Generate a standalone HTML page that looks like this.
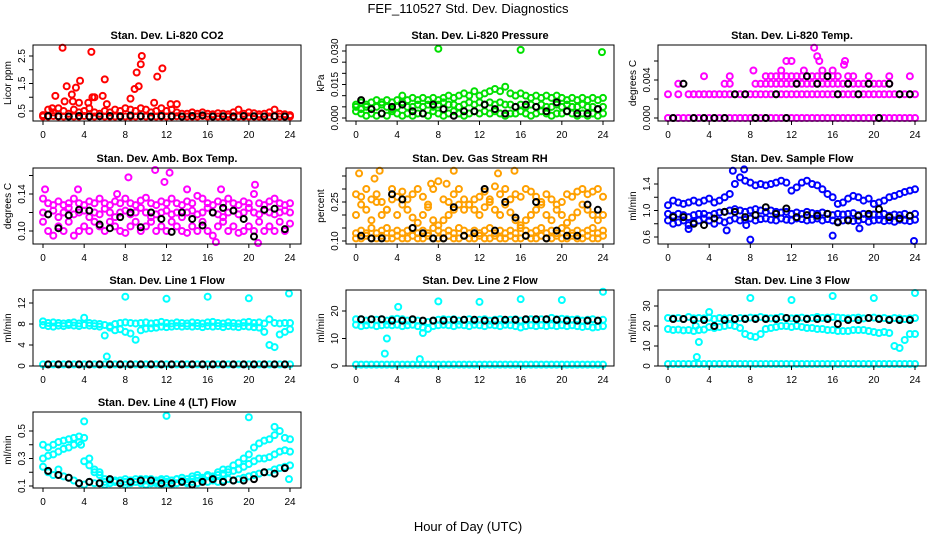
<!DOCTYPE html>
<html><head><meta charset="utf-8"><style>
body{margin:0;background:#fff}
svg{display:block;font-family:"Liberation Sans",sans-serif}
</style></head><body>
<svg id="chart" width="936" height="540" viewBox="0 0 936 540" xmlns="http://www.w3.org/2000/svg">
<rect width="936" height="540" fill="#fff"/>
<text x="468" y="13" text-anchor="middle" font-size="13">FEF_110527  Std. Dev. Diagnostics</text>
<text x="468" y="531" text-anchor="middle" font-size="13">Hour of Day (UTC)</text>
</svg>
<script>
// ---- data (hours every 0.5 h for coloured series, hourly at :30 for black) ----
const xTicks = [0,4,8,12,16,20,24];

const co2Base = [0.3,0.3,0.32,0.3,0.3,0.31,0.3,0.3,0.32,0.3,0.3,0.31,0.3,0.3,0.3,0.32,0.3,0.3,0.3,0.31,0.3,0.3,0.3,0.3,0.3,0.3,0.31,0.3,0.3,0.3,0.3,0.32,0.3,0.3,0.3,0.3,0.3,0.31,0.3,0.3,0.3,0.3,0.3,0.3,0.3,0.31,0.3,0.3,0.3];
const co2Upper = [0.35,0.55,0.45,0.6,0.5,0.4,0.55,0.45,0.5,0.6,0.45,0.4,0.5,0.45,0.55,0.5,0.6,0.55,0.5,0.6,0.55,0.45,0.5,0.6,0.5,0.55,0.45,0.4,0.4,0.45,0.4,0.45,0.4,0.38,0.42,0.4,0.38,0.45,0.55,0.4,0.45,0.42,0.38,0.4,0.45,0.55,0.4,0.38,0.35];
const co2OutH = [1.9,4.7,9.6,9.5,11.6,9.1,11.1,6.0,3.6,3.2,2.3,2.8,1.2,5.8,5.0,4.8,9.3,8.9,8.5,2.1,2.9,3.5,4.4,6.2,12.4,13,10.8,0.9];
const co2OutV = [2.8,2.65,2.5,2.2,2.05,1.9,1.75,1.65,1.6,1.35,1.4,1.1,1.05,1.05,1.0,1.0,1.4,1.3,0.95,0.85,0.85,0.8,0.8,0.75,0.75,0.75,0.8,0.6];
const co2Black = [0.32,0.31,0.3,0.32,0.3,0.31,0.32,0.3,0.33,0.31,0.3,0.32,0.31,0.3,0.32,0.34,0.3,0.31,0.3,0.32,0.31,0.3,0.31,0.3];

const presLo = [0.003,0.002,0.001,0.002,0.001,0.002,0.001,0.003,0.002,0.001,0.002,0.001,0.002,0.002,0.001,0.003,0.002,0.001,0.002,0.003,0.002,0.001,0.002,0.003,0.002,0.003,0.002,0.003,0.002,0.001,0.002,0.002,0.003,0.002,0.001,0.002,0.003,0.002,0.001,0.002,0.002,0.003,0.002,0.001,0.002,0.001,0.002,0.001,0.002];
const presMid = [0.005,0.004,0.005,0.004,0.005,0.006,0.005,0.004,0.005,0.006,0.005,0.005,0.006,0.005,0.006,0.005,0.006,0.007,0.006,0.006,0.005,0.006,0.007,0.006,0.007,0.006,0.007,0.006,0.007,0.006,0.006,0.005,0.006,0.005,0.006,0.005,0.006,0.005,0.005,0.006,0.005,0.006,0.005,0.005,0.006,0.005,0.005,0.004,0.005];
const presHi = [0.006,0.007,0.006,0.007,0.008,0.007,0.008,0.007,0.008,0.007,0.008,0.009,0.008,0.009,0.008,0.009,0.008,0.009,0.01,0.009,0.01,0.011,0.01,0.012,0.01,0.011,0.012,0.013,0.012,0.014,0.011,0.01,0.011,0.01,0.009,0.01,0.009,0.01,0.009,0.01,0.009,0.008,0.009,0.008,0.009,0.008,0.009,0.008,0.009];
const presOutH = [8,16,23.9,4.5];
const presOutV = [0.031,0.0305,0.0295,0.01];
const presBlack = [0.008,0.004,0.002,0.005,0.006,0.003,0.002,0.006,0.004,0.001,0.003,0.003,0.006,0.004,0.002,0.005,0.006,0.005,0.003,0.007,0.003,0.002,0.002,0.004];

const tempL0 = [0,0,0,0,0,0,0,0,0,0,0,0,0,0,0,0,0,0,0,0,0,0,0,0,0,0,0,0,0,0,0,0,0,0,0,0,0,0,0,0,0,0,0,0,0,0,0,0,0];
const tempL1 = [0.0025,null,0.0025,null,0.0025,0.0025,0.0025,0.0025,0.0025,0.0025,0.0025,0.0025,0.0025,0.0025,0.0025,0.0025,0.0025,0.0025,0.0025,0.0025,0.0025,0.0025,0.0025,0.0025,0.0025,0.0025,0.0025,0.0025,0.0025,0.0025,0.0025,0.0025,0.0025,0.0025,0.0025,0.0025,0.0025,0.0025,0.0025,0.0025,0.0025,0.0025,0.0025,0.0025,0.0025,0.0025,0.0025,0.0025,0.0025];
const tempL2 = [null,null,0.0036,null,null,null,null,null,null,null,null,0.0036,0.0036,null,null,null,null,0.0036,0.0036,0.0036,0.0036,0.0036,0.0036,0.0036,0.0036,0.0036,0.0036,0.0036,0.0036,0.0036,0.0036,0.0036,0.0036,0.0036,0.0036,0.0036,0.0036,0.0036,0.0036,0.0036,0.0036,0.0036,0.0036,0.0036,null,null,null,null,null];
const tempL3 = [null,null,null,null,null,null,null,0.0044,null,null,null,null,0.0044,null,null,null,null,null,null,0.0044,0.0044,0.0044,0.0044,0.0044,0.0044,0.0044,0.0044,0.0044,0.0044,0.0044,0.0044,0.0044,0.0044,0.0044,null,0.0044,0.0044,null,null,0.0044,null,null,null,0.0044,null,null,null,0.0044,null];
const tempOutH = [8.3,11,11.5,12,13.2,14.5,14.7,14.2,17.1,17.2,15,16];
const tempOutV = [0.005,0.005,0.006,0.006,0.005,0.0065,0.006,0.0074,0.0056,0.006,0.005,0.005];
const tempBlack = [0,0.0036,0,0,0,0,0.0025,0.0025,0,0,0.0025,0,0.0036,0.0044,0.0036,0.0044,0.0025,0.0036,0.0025,0.0036,0,0.0036,0.0025,0.0025];

const ambLo = [0.11,0.1,0.095,0.105,0.1,0.11,0.095,0.1,0.105,0.1,0.11,0.105,0.1,0.11,0.105,0.1,0.098,0.105,0.11,0.1,0.105,0.11,0.1,0.105,0.1,0.11,0.105,0.1,0.098,0.105,0.1,0.11,0.1,0.095,0.105,0.11,0.1,0.105,0.098,0.1,0.105,0.1,0.11,0.1,0.105,0.1,0.11,0.1,0.108];
const ambMid = [0.12,0.118,0.122,0.115,0.12,0.125,0.118,0.12,0.122,0.115,0.12,0.118,0.124,0.12,0.115,0.12,0.122,0.118,0.12,0.125,0.12,0.115,0.118,0.12,0.122,0.118,0.12,0.115,0.12,0.122,0.118,0.12,0.125,0.12,0.118,0.115,0.12,0.122,0.118,0.12,0.125,0.12,0.118,0.122,0.12,0.118,0.12,0.122,0.12];
const ambHi = [0.135,0.13,0.128,0.132,0.128,0.13,0.135,0.13,0.128,0.132,0.13,0.135,0.13,0.128,0.132,0.13,0.135,0.13,0.128,0.133,0.136,0.13,0.128,0.132,0.13,0.135,0.13,0.128,0.132,0.13,0.138,0.135,0.13,0.128,0.132,0.13,0.135,0.13,0.128,0.132,0.13,0.14,0.13,0.128,0.132,0.135,0.13,0.128,0.13];
const ambOutH = [0.2,8.3,10.9,12.3,11.8,20.6,16.8,20.9,3.4,14,7.2,17.3];
const ambOutV = [0.145,0.158,0.166,0.163,0.153,0.15,0.088,0.087,0.145,0.145,0.14,0.145];
const ambBlack = [0.118,0.103,0.117,0.123,0.122,0.107,0.103,0.115,0.12,0.104,0.12,0.113,0.099,0.12,0.113,0.106,0.12,0.125,0.122,0.113,0.094,0.123,0.124,0.102];

const rhLo = [0.11,0.11,0.12,0.11,0.11,0.12,0.11,0.11,0.12,0.11,0.11,0.12,0.11,0.11,0.12,0.11,0.11,0.11,0.12,0.11,0.11,0.12,0.11,0.11,0.12,0.11,0.11,0.12,0.11,0.11,0.12,0.11,0.11,0.12,0.11,0.11,0.12,0.11,0.11,0.12,0.11,0.11,0.12,0.11,0.11,0.12,0.11,0.11,0.12];
const rhLo2 = [0.13,0.14,0.13,0.15,0.13,0.14,0.15,0.13,0.14,0.13,0.14,0.15,0.13,0.14,0.13,0.15,0.14,0.13,0.14,0.13,0.15,0.14,0.13,0.14,0.13,0.14,0.15,0.13,0.14,0.13,0.14,0.13,0.15,0.14,0.13,0.14,0.15,0.13,0.14,0.13,0.15,0.14,0.13,0.14,0.13,0.14,0.15,0.13,0.14];
const rhMid = [0.2,0.24,0.22,0.18,0.25,0.2,0.22,0.26,0.2,0.24,0.22,0.19,0.17,0.2,0.23,0.18,0.16,0.18,0.2,0.22,0.24,0.26,0.24,0.22,0.2,0.23,0.25,0.22,0.2,0.24,0.21,0.18,0.16,0.18,0.2,0.22,0.24,0.2,0.18,0.22,0.2,0.17,0.19,0.21,0.24,0.22,0.2,0.18,0.2];
const rhHi = [0.28,0.27,0.3,0.26,0.28,0.25,0.22,0.3,0.27,0.29,0.26,0.28,0.3,0.27,0.24,0.3,0.33,0.26,0.25,0.28,0.3,0.22,0.24,0.26,0.27,0.29,0.26,0.31,0.28,0.3,0.26,0.28,0.27,0.3,0.29,0.27,0.25,0.28,0.26,0.24,0.25,0.28,0.27,0.29,0.3,0.28,0.29,0.3,0.27];
const rhOutH = [0.3,2.3,9.5,13.8,15.4,1.8,7.3,8.8];
const rhOutV = [0.36,0.37,0.37,0.36,0.37,0.34,0.32,0.32];
const rhBlack = [0.12,0.11,0.11,0.28,0.26,0.15,0.13,0.11,0.11,0.23,0.12,0.13,0.3,0.14,0.25,0.19,0.12,0.25,0.11,0.14,0.12,0.12,0.24,0.22];

const sfLo = [0.85,0.8,0.82,0.85,0.78,0.82,0.85,0.88,0.85,0.8,0.85,0.82,0.85,0.88,0.85,0.86,0.88,0.85,0.87,0.88,0.86,0.85,0.88,0.86,0.85,0.88,0.87,0.85,0.86,0.88,0.85,0.87,0.85,0.83,0.85,0.86,0.84,0.85,0.87,0.83,0.85,0.86,0.84,0.85,0.83,0.86,0.85,0.84,0.86];
const sfMid = [0.95,0.92,0.95,0.93,0.9,0.93,0.95,0.95,0.92,0.95,0.97,0.98,1.0,1.02,1.0,0.98,1.0,1.02,1.0,0.98,1.0,0.98,0.97,0.98,0.95,0.97,0.95,0.98,0.96,0.95,0.97,0.95,0.93,0.95,0.94,0.95,0.96,0.93,0.95,0.92,0.94,0.93,0.95,0.92,0.94,0.93,0.95,0.92,0.95];
const sfHi = [1.08,1.15,1.12,1.1,1.12,1.15,1.12,1.15,1.18,1.12,1.15,1.2,1.25,1.4,1.5,1.45,1.42,1.38,1.4,1.38,1.4,1.42,1.45,1.42,1.3,1.35,1.42,1.45,1.4,1.38,1.32,1.25,1.2,1.1,1.12,1.18,1.22,1.2,1.15,1.18,1.1,1.12,1.15,1.2,1.22,1.25,1.28,1.3,1.32];
const sfOutH = [6.3,7.4,8,16,23.9,5.7,2,18.6,7.6];
const sfOutV = [1.6,1.62,0.56,0.62,0.54,0.7,0.72,0.73,0.78];
const sfBlack = [0.9,0.9,0.8,0.78,0.88,0.98,0.98,0.9,0.93,1.05,0.95,1.03,0.9,0.93,0.92,0.95,0.82,0.85,0.92,0.95,1.02,0.9,0.88,0.92];

const l1Top = [8.5,8.2,8.3,8.2,8.1,8.2,8.3,8.1,9.2,8.2,8.1,8,7.8,7.6,8,8.2,8.3,8.2,8.1,8.2,8.3,8.1,8.2,8.4,8.2,8.1,8.3,8.2,8.1,8.3,8.2,8.1,8.3,8.4,8.2,8.1,8.3,8.2,8.1,8.3,8.4,8.2,8.3,8.1,8.9,8.2,8.1,8.2,8.2];
const l1Low = [7.8,7.6,7.5,7.7,7.6,7.8,7.7,7.6,7.8,7.7,7.6,7.5,5.8,7.3,6.8,7.0,6.5,6.2,5.0,6.8,7.1,7.2,7.3,7.5,7.4,7.5,7.6,7.5,7.6,7.5,7.6,7.4,7.6,7.5,7.6,7.4,7.6,7.5,7.4,7.6,7.5,7.4,7.3,6.5,4.0,3.6,6.0,6.5,7.0];
const l1Zero = [0.3,0.3,0.3,0.3,0.3,0.3,0.3,0.3,0.3,0.3,0.3,0.3,0.3,0.3,0.3,0.3,0.3,0.3,0.3,0.3,0.3,0.3,0.3,0.3,0.3,0.3,0.3,0.3,0.3,0.3,0.3,0.3,0.3,0.3,0.3,0.3,0.3,0.3,0.3,0.3,0.3,0.3,0.3,0.3,0.3,0.3,0.3,0.3,0.3];
const l1OutH = [8,12,16,20,23.9,6.2];
const l1OutV = [13.2,12.8,13.2,12.9,13.8,1.8];
const l1Black = [0.3,0.3,0.3,0.3,0.3,0.3,0.3,0.3,0.3,0.3,0.3,0.3,0.3,0.3,0.3,0.3,0.3,0.3,0.3,0.3,0.3,0.3,0.3,0.3];

const l2Top = [17,17,16.5,17,16.8,17,16.5,17,17.2,17,16.5,16.8,16.5,14,16,16.5,16.8,17,16.8,17,16.5,16.8,17,16.5,16.8,17,16.5,16.8,17,16.5,16.8,17,16.5,16.8,17,16.5,17,16.8,17.5,17,17.2,17,16.8,17,16.5,16.8,17,16.5,16.8];
const l2Low = [15,14.5,14.8,15,14.5,14.8,15,14.8,15,14.5,14.8,15,14.5,12,13.5,14.5,14.8,15,14.8,14.5,15,14.8,14.5,15,14.8,14.5,15,14.8,14.5,15,14.8,14.5,14,14.5,14.8,14.5,14.8,14.5,14.8,14.5,14.8,14.5,14.8,14.5,14.2,14.5,14,14.2,14.5];
const l2Zero = [0.5,0.5,0.5,0.5,0.5,0.5,0.5,0.5,0.5,0.5,0.5,0.5,0.5,0.5,0.5,0.5,0.5,0.5,0.5,0.5,0.5,0.5,0.5,0.5,0.5,0.5,0.5,0.5,0.5,0.5,0.5,0.5,0.5,0.5,0.5,0.5,0.5,0.5,0.5,0.5,0.5,0.5,0.5,0.5,0.5,0.5,0.5,0.5,0.5];
const l2OutH = [2.8,3,4.1,8,12,16,20,24,6.2];
const l2OutV = [4.5,10,21.5,23.5,23.3,24.3,24,27,2.5];
const l2Black = [17,17,17,16.5,16.5,17,16.5,16.5,16.5,16.8,16.8,16.8,16.5,16.5,16.8,16.8,17,17,17,16.8,16.5,16.5,16.5,16.5];

const l3Top = [24,23.8,24,23.5,24.5,23.8,24,23.8,24.2,23.5,24,23.8,24,23.5,24,23.8,24.2,24,24.5,24,23.8,24,24.5,24,23.8,24,24.2,23.8,24,24.5,24,24.2,24.5,24.2,24,23.8,24,24.2,23.8,24,24.2,23.8,24,23.5,24,23.8,23.5,23.8,24];
const l3Mid = [18.5,18,18.2,17.8,18,17.5,18,18.2,19.5,19,19.5,20,20.5,20,19,16,15,14.5,16,18.5,19,19.5,20,20,19.5,20,19.5,19,19,18.5,18.5,18,18,17.5,17.5,17.5,18,18,18,17.5,17,16.5,17,16.5,10,9,13,16,16];
const l3Zero = [1,1,1,1,1,1,1,1,1,1,1,1,1,1,1,1,1,1,1,1,1,1,1,1,1,1,1,1,1,1,1,1,1,1,1,1,1,1,1,1,1,1,1,1,1,1,1,1,1];
const l3OutH = [2.8,3,4,8,12,16,20,24,2.7];
const l3OutV = [4.5,12,27,34,33,35,34,36.5,20];
const l3Black = [23.5,23.5,23,23,20,23,23.5,23.5,23.5,23.5,23.5,24,23.5,23.5,23.5,23.5,21,23,23,24,23.5,23,23,23];

const l4HiA = [0.4,0.38,0.4,0.42,0.43,0.44,0.45,0.46,0.45,0.3,0.22,0.2,0.15,0.14,0.14,0.14,0.15,0.14,0.15,0.15,0.14,0.15,0.14,0.15,0.15,0.14,0.15,0.16,0.15,0.17,0.18,0.16,0.18,0.17,0.2,0.22,0.22,0.25,0.27,0.3,0.33,0.38,0.41,0.43,0.44,0.47,0.5,0.45,0.44];
const l4HiB = [0.3,0.32,0.33,0.35,0.37,0.38,0.4,0.42,0.28,0.25,0.2,0.18,0.13,0.14,0.13,0.14,0.13,0.14,0.13,0.14,0.15,0.14,0.13,0.14,0.13,0.14,0.15,0.14,0.13,0.15,0.16,0.15,0.17,0.16,0.18,0.19,0.2,0.21,0.22,0.24,0.26,0.28,0.3,0.3,0.31,0.33,0.35,0.36,0.35];
const l4Lo = [0.24,0.2,0.18,0.22,0.17,0.16,0.14,0.12,0.11,0.13,0.12,0.12,0.11,0.12,0.13,0.12,0.11,0.12,0.13,0.12,0.11,0.12,0.12,0.11,0.12,0.11,0.12,0.13,0.12,0.13,0.12,0.14,0.13,0.14,0.13,0.14,0.15,0.14,0.15,0.16,0.17,0.18,0.19,0.2,0.2,0.22,0.23,0.24,0.25];
const l4OutH = [4,12,20,22.5,23.9,3.7];
const l4OutV = [0.57,0.61,0.6,0.53,0.15,0.4];
const l4Black = [0.21,0.18,0.16,0.12,0.13,0.12,0.15,0.12,0.13,0.14,0.14,0.12,0.12,0.13,0.11,0.13,0.15,0.13,0.14,0.14,0.15,0.2,0.19,0.23];

// ---- rendering ----
const NS = 'http://www.w3.org/2000/svg';
const svg = document.getElementById('chart');
function mk(tag, attrs, parent){const e=document.createElementNS(NS,tag);for(const k in attrs)e.setAttribute(k,attrs[k]);(parent||svg).appendChild(e);return e;}

const panels = [
 {id:'co2',title:'Stan. Dev. Li-820 CO2',ylab:'Licor ppm',L:33,T:45,v0:0.5,p0:111,v1:2.5,p1:56,ticks:[0.5,1,1.5,2,2.5],labels:['0.5','','1.5','','2.5'],color:'#ff0000',bands:[co2Base,co2Upper],oh:co2OutH,ov:co2OutV,blk:co2Black},
 {id:'pressure',title:'Stan. Dev. Li-820 Pressure',ylab:'kPa',L:346,T:45,v0:0,p0:118,v1:0.03,p1:51,ticks:[0,0.005,0.01,0.015,0.02,0.025,0.03],labels:['0.000','','','0.015','','','0.030'],color:'#00e000',bands:[presLo,presMid,presHi],oh:presOutH,ov:presOutV,blk:presBlack},
 {id:'temp',title:'Stan. Dev. Li-820 Temp.',ylab:'degrees C',L:658,T:45,v0:0,p0:118,v1:0.004,p1:80,ticks:[0,0.002,0.004,0.006],labels:['0.000','','0.004',''],color:'#ff00ff',bands:[tempL0,tempL1,tempL2,tempL3],oh:tempOutH,ov:tempOutV,blk:tempBlack},
 {id:'amb-box',title:'Stan. Dev. Amb. Box Temp.',ylab:'degrees C',L:33,T:168,v0:0.10,p0:231,v1:0.14,p1:194,ticks:[0.10,0.12,0.14,0.16],labels:['0.10','','0.14',''],color:'#ff00ff',bands:[ambLo,ambMid,ambHi],oh:ambOutH,ov:ambOutV,blk:ambBlack},
 {id:'rh',title:'Stan. Dev. Gas Stream RH',ylab:'percent',L:346,T:168,v0:0.10,p0:241,v1:0.25,p1:202,ticks:[0.10,0.15,0.20,0.25,0.30,0.35],labels:['0.10','','','0.25','',''],color:'#ffa000',bands:[rhLo,rhLo2,rhMid,rhHi],oh:rhOutH,ov:rhOutV,blk:rhBlack},
 {id:'sample-flow',title:'Stan. Dev. Sample Flow',ylab:'ml/min',L:658,T:168,v0:0.6,p0:237,v1:1.4,p1:184,ticks:[0.6,0.8,1.0,1.2,1.4],labels:['0.6','','1.0','','1.4'],color:'#0000ff',bands:[sfLo,sfMid,sfHi],oh:sfOutH,ov:sfOutV,blk:sfBlack},
 {id:'line1',title:'Stan. Dev. Line 1 Flow',ylab:'ml/min',L:33,T:290,v0:0,p0:366,v1:12,p1:303,ticks:[0,4,8,12],labels:['0','4','8','12'],color:'#00ffff',bands:[l1Zero,l1Low,l1Top],oh:l1OutH,ov:l1OutV,blk:l1Black},
 {id:'line2',title:'Stan. Dev. Line 2 Flow',ylab:'ml/min',L:346,T:290,v0:0,p0:366,v1:20,p1:311,ticks:[0,10,20],labels:['0','10','20'],color:'#00ffff',bands:[l2Zero,l2Low,l2Top],oh:l2OutH,ov:l2OutV,blk:l2Black},
 {id:'line3',title:'Stan. Dev. Line 3 Flow',ylab:'ml/min',L:658,T:290,v0:0,p0:366,v1:30,p1:306,ticks:[0,10,20,30],labels:['0','10','20','30'],color:'#00ffff',bands:[l3Zero,l3Mid,l3Top],oh:l3OutH,ov:l3OutV,blk:l3Black},
 {id:'line4',title:'Stan. Dev. Line 4 (LT) Flow',ylab:'ml/min',L:33,T:412,v0:0.1,p0:486,v1:0.5,p1:431,ticks:[0.1,0.2,0.3,0.4,0.5],labels:['0.1','','0.3','','0.5'],color:'#00ffff',bands:[l4Lo,l4HiB,l4HiA],oh:l4OutH,ov:l4OutV,blk:l4Black}
];
const W=268,H=76;

panels.forEach(p=>{
  const g=mk('g',{});
  
  
  const xs=h=>p.L+10+h*(247/24);
  const ys=v=>p.p0+(v-p.v0)*(p.p1-p.p0)/(p.v1-p.v0);
  const B=p.T+H;
  const t=mk('text',{x:p.L+W/2,y:p.T-6,'text-anchor':'middle','font-size':11,'font-weight':'bold'},g);
  t.textContent=p.title;
  
  
  const pts=mk('g',{fill:'none','stroke-width':2},g);
  
  
  p.bands.forEach(arr=>arr.forEach((v,i)=>{
    if(v===null)return;
    const c=mk('circle',{cx:xs(i*0.5),cy:ys(v),r:3,stroke:p.color},pts);
    
    
  }));
  p.oh.forEach((h,i)=>{
    const c=mk('circle',{cx:xs(h),cy:ys(p.ov[i]),r:3,stroke:p.color},pts);
    
    
  });
  p.blk.forEach((v,i)=>{
    const c=mk('circle',{cx:xs(i+0.5),cy:ys(v),r:3,stroke:'#000'},pts);
    
    
  });
  const box=mk('rect',{x:p.L,y:p.T,width:W,height:H,fill:'none',stroke:'#000','stroke-width':1},g);
  
  
  const xa=mk('g',{},g);
  
  
  xTicks.forEach(h=>{
    mk('line',{x1:xs(h),x2:xs(h),y1:B,y2:B+4,stroke:'#000'},xa);
    const tl=mk('text',{x:xs(h),y:B+17,'text-anchor':'middle','font-size':10},xa);
    tl.textContent=h;
  });
  const ya=mk('g',{},g);
  
  
  p.ticks.forEach((v,i)=>{
    const y=ys(v);
    mk('line',{x1:p.L-4,x2:p.L,y1:y,y2:y,stroke:'#000'},ya);
    if(p.labels[i]){
      const tl=mk('text',{x:p.L-8,y:y,'text-anchor':'middle','font-size':10,transform:`rotate(-90 ${p.L-8} ${y})`},ya);
      tl.textContent=p.labels[i];
    }
  });
  const yl=mk('text',{x:p.L-22,y:p.T+H/2,'text-anchor':'middle','font-size':10,transform:`rotate(-90 ${p.L-22} ${p.T+H/2})`},g);
  yl.textContent=p.ylab;
  
  
});
</script>
</body></html>
